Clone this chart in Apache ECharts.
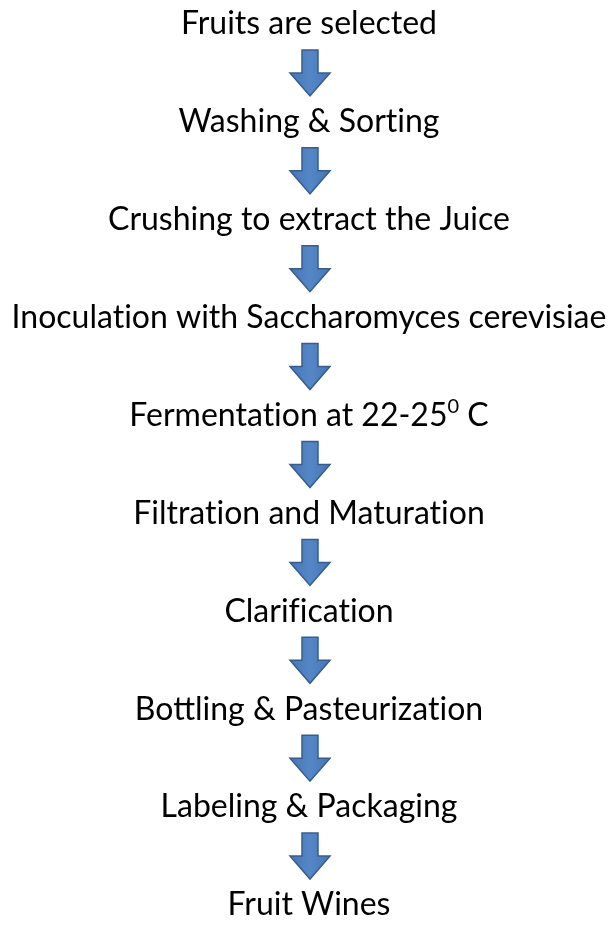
<!DOCTYPE html>
<html>
<head>
<meta charset="utf-8">
<script src="https://cdn.jsdelivr.net/npm/echarts@6/dist/echarts.min.js"></script>
<style>
  html, body { margin: 0; padding: 0; background: #fff; }
  #flow { width: 612px; height: 930px; }
</style>
</head>
<body>
<div id="flow"></div>
<script>
  // process steps, top to bottom
  var steps = [
    'Fruits are selected',
    'Washing & Sorting',
    'Crushing to extract the Juice',
    'Inoculation with Saccharomyces cerevisiae',
    'Fermentation at 22-25\u2070 C',
    'Filtration and Maturation',
    'Clarification',
    'Bottling & Pasteurization',
    'Labeling & Packaging',
    'Fruit Wines'
  ];
  var stepIndex = steps.map(function (s, i) { return [0, i]; });

  var chart = echarts.init(document.getElementById('flow'));

  // Lato joins "ti" / "fi", break them so it reads like the original;
  // the degree-style zero goes to a small raised rich-text run
  function labelText(s) {
    return s.replace(/t(?=i)/g, 't\u200C').replace(/f(?=i)/g, 'f\u200C')
      .replace('\u2070', '{sup|0}');
  }

  // draws the step text and the arrow coming into it from the step above
  function renderStep(params, api) {
    var i = api.value(1);
    var p = api.coord([0, i]);
    var children = [{
      type: 'text',
      x: p[0],
      y: p[1],
      style: {
        text: labelText(steps[i]),
        font: '32px Lato',
        fill: '#000',
        align: 'center',
        verticalAlign: 'middle',
        rich: {
          sup: { fontSize: 20, fontFamily: 'Lato', fill: '#000', verticalAlign: 'top', lineHeight: 38 }
        }
      }
    }];
    if (i > 0) {
      var q = api.coord([0, i - 1]);
      var cx = p[0] + 1;
      var mid = (p[1] + q[1]) / 2;
      var top = mid - 23, neck = mid, tip = mid + 23;
      children.push({
        type: 'polygon',
        shape: {
          points: [
            [cx - 8, top], [cx + 8, top], [cx + 8, neck], [cx + 20, neck],
            [cx, tip], [cx - 20, neck], [cx - 8, neck]
          ]
        },
        style: {
          fill: new echarts.graphic.LinearGradient(0, 0, 1, 0, [
            { offset: 0, color: '#4575b3' },
            { offset: 0.5, color: '#5586c6' },
            { offset: 1, color: '#4575b3' }
          ]),
          stroke: '#385d8a',
          lineWidth: 1.5
        }
      });
    }
    return { type: 'group', children: children };
  }

  chart.setOption({
    backgroundColor: '#fff',
    animation: false,
    grid: { left: 6, right: 0, top: 24, bottom: 25 },
    xAxis: { type: 'value', min: -1, max: 1, show: false },
    yAxis: {
      type: 'category',
      data: steps,
      inverse: true,
      boundaryGap: false,
      show: false
    },
    series: [{
      type: 'custom',
      renderItem: renderStep,
      data: stepIndex,
      silent: true
    }]
  });
</script>
</body>
</html>
